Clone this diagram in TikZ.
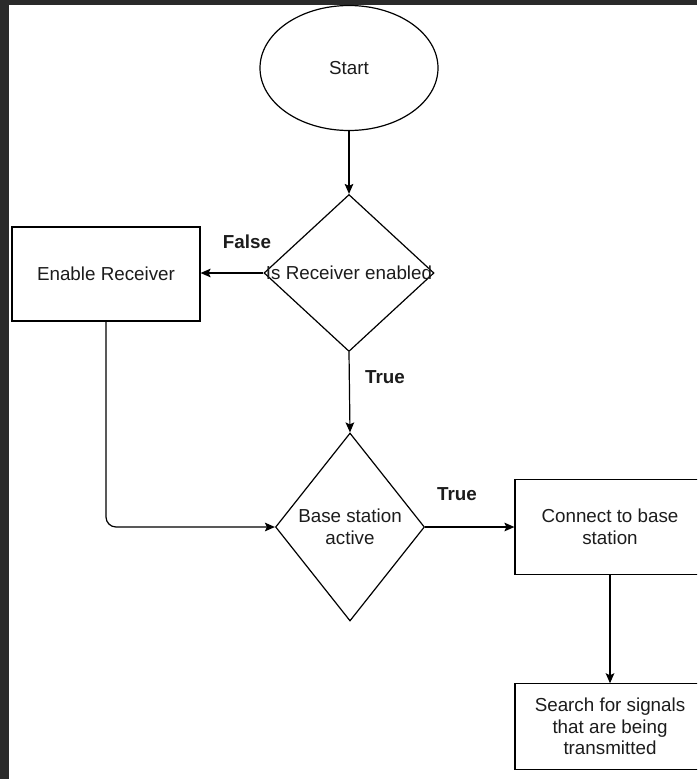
\documentclass[tikz,border=0pt]{standalone}
\usepackage{fontspec}
\setmainfont{Liberation Sans}
\usetikzlibrary{shapes.geometric,arrows.meta}
\definecolor{frame}{HTML}{2A2A2A}
\definecolor{ink}{HTML}{1C1C1C}
\tikzset{
  txt/.style={font=\fontsize{14.1}{16.2}\selectfont, text=ink, align=center},
  boxnode/.style={draw=black, line width=0.9pt, fill=white, rectangle, inner sep=0pt,
                  minimum width=142.5pt, minimum height=71pt, txt},
  decision/.style={draw=black, line width=0.9pt, fill=white, diamond, inner sep=0pt},
  terminal/.style={draw=black, line width=0.9pt, fill=white, ellipse, inner sep=0pt,
                   minimum width=133.5pt, minimum height=93.75pt, txt},
  arr/.style={draw=black, line width=0.9pt, -{Stealth[length=7.5pt,width=6.5pt,inset=1.5pt]}},
  flag/.style={font=\fontsize{14.1}{16.2}\selectfont\bfseries, text=ink}
}
\begin{document}
\begin{tikzpicture}[x=0.75pt, y=-0.75pt]
  % canvas with dark frame on the left and top
  \clip (0,0) rectangle (697,779);
  \fill[frame] (0,0) rectangle (697,779);
  \fill[white] (9,5) rectangle (697,779);

  % nodes
  \node[terminal] (start) at (349,68) {Start};
  \node[decision, minimum width=127.5pt, minimum height=117.75pt,
        label={[txt]center:Is Receiver enabled}] (recv) at (349,273) {};
  \node[boxnode, minimum width=141pt, minimum height=70.5pt] (enable) at (106,274) {Enable Receiver};
  \node[decision, minimum width=111.75pt, minimum height=141pt,
        label={[txt]center:Base station\\active}] (base) at (350,527) {};
  \node[boxnode] (connect) at (610,527) {Connect to base\\station};
  \node[boxnode, minimum height=64pt] (search) at (610,726.5) {Search for signals\\that are being\\transmitted};

  % connectors
  \draw[arr] (start.south) -- (recv.north);
  \draw[arr] (recv.west) -- (recv.west -| enable.east);
  \draw[arr] (recv.south) -- (base.north);
  \draw[arr, rounded corners=7.5pt] (enable.south) -- (enable.south |- base.west) -- (base.west);
  \draw[arr] (base.east) -- (connect.west);
  \draw[arr] (connect.south) -- (search.north);

  % branch labels
  \node[flag] (lfalse) at (247,242) {False};
  \node[flag] (ltrue1) at (385,377) {True};
  \node[flag] (ltrue2) at (457,494) {True};
\end{tikzpicture}
\end{document}
